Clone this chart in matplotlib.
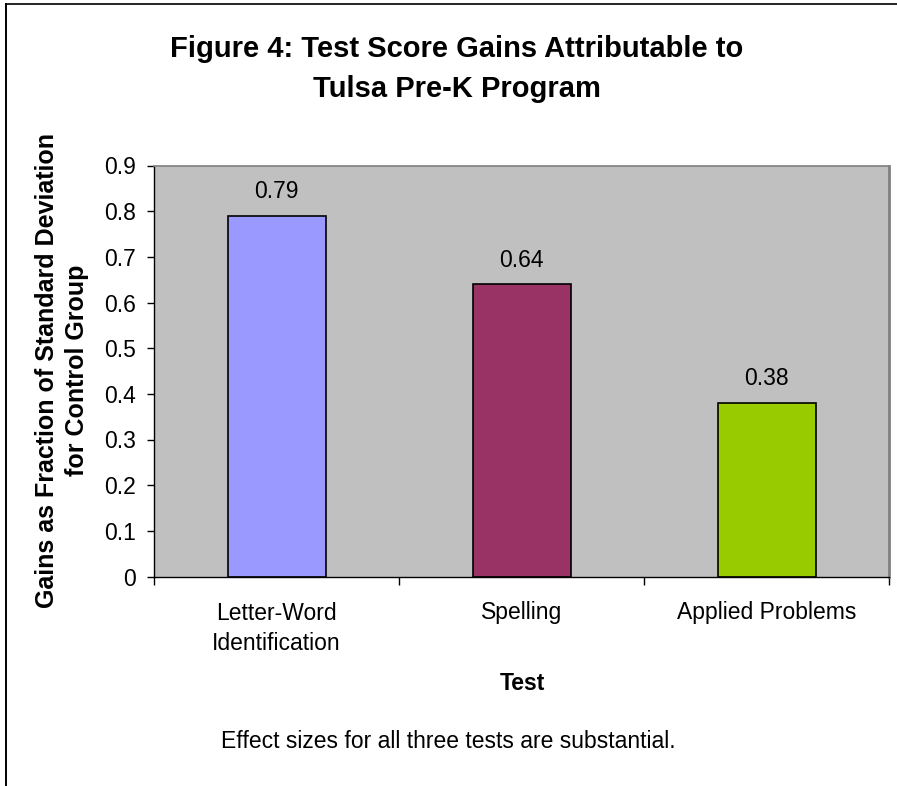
import matplotlib.pyplot as plt
from matplotlib.lines import Line2D

plt.rcParams['font.family'] = ['Liberation Sans', 'DejaVu Sans']

tests = ["Letter-Word\nIdentification", "Spelling", "Applied Problems"]
gains = [0.79, 0.64, 0.38]
bar_colors = ["#9999FF", "#993366", "#99CC00"]
y_ticks = [0, 0.1, 0.2, 0.3, 0.4, 0.5, 0.6, 0.7, 0.8, 0.9]

W, H = 897, 786
fig = plt.figure(figsize=(W / 100, H / 100), dpi=100)
ax = fig.add_axes([154 / W, 1 - 576.5 / H, (889 - 154) / W, (576.5 - 165.5) / H])
ax.set_facecolor("#C0C0C0")

x = list(range(len(tests)))
bars = ax.bar(x, gains, width=0.4, color=bar_colors, edgecolor="black", linewidth=1.2)
for b, v in zip(bars, gains):
    ax.annotate(f"{v:.2f}", (b.get_x() + b.get_width() / 2, v),
                xytext=(0, 9), textcoords="offset points",
                ha="center", va="bottom", fontsize=16.5)

ax.set_xlim(-0.5, 2.5)
ax.set_ylim(0, 0.9)
ax.set_yticks(y_ticks)
ax.set_yticklabels([f"{t:g}" for t in y_ticks])
ax.tick_params(axis="y", length=5, width=1, pad=8, labelsize=16.5, direction="out")

ax.set_xticks(x)
ax.set_xticklabels(tests, fontsize=16.5, linespacing=1.4)
ax.tick_params(axis="x", which="major", length=0, pad=18)
ax.set_xticks([-0.5, 0.5, 1.5, 2.5], minor=True)
ax.tick_params(axis="x", which="minor", length=6, width=1, direction="out")

for side in ("left", "bottom"):
    ax.spines[side].set_color("black")
    ax.spines[side].set_linewidth(1.0)
ax.spines["top"].set_color("#808080")
ax.spines["top"].set_linewidth(1.2)
ax.spines["right"].set_color("#808080")
ax.spines["right"].set_linewidth(2.0)

fig.text(457 / W, 1 - 69 / H, "Figure 4: Test Score Gains Attributable to\nTulsa Pre-K Program",
         ha="center", va="center", fontsize=21, fontweight="bold", linespacing=1.55)
fig.text(62 / W, 1 - 370 / H, "Gains as Fraction of Standard Deviation\nfor Control Group",
         ha="center", va="center", rotation=90, fontsize=18, fontweight="bold",
         linespacing=1.32)
fig.text(522.5 / W, 1 - 684 / H, "Test", ha="center", va="center",
         fontsize=16.5, fontweight="bold")
fig.text(448.5 / W, 1 - 741 / H, "Effect sizes for all three tests are substantial.",
         ha="center", va="center", fontsize=16.5)

# outer chart frame (top and left edges only)
fig.add_artist(Line2D([6 / W, 1], [1 - 4 / H] * 2, color="black", lw=1.2,
                      transform=fig.transFigure))
fig.add_artist(Line2D([6 / W] * 2, [0, 1 - 4 / H], color="black", lw=1.4,
                      transform=fig.transFigure))

fig.savefig("out.png", dpi=100)
